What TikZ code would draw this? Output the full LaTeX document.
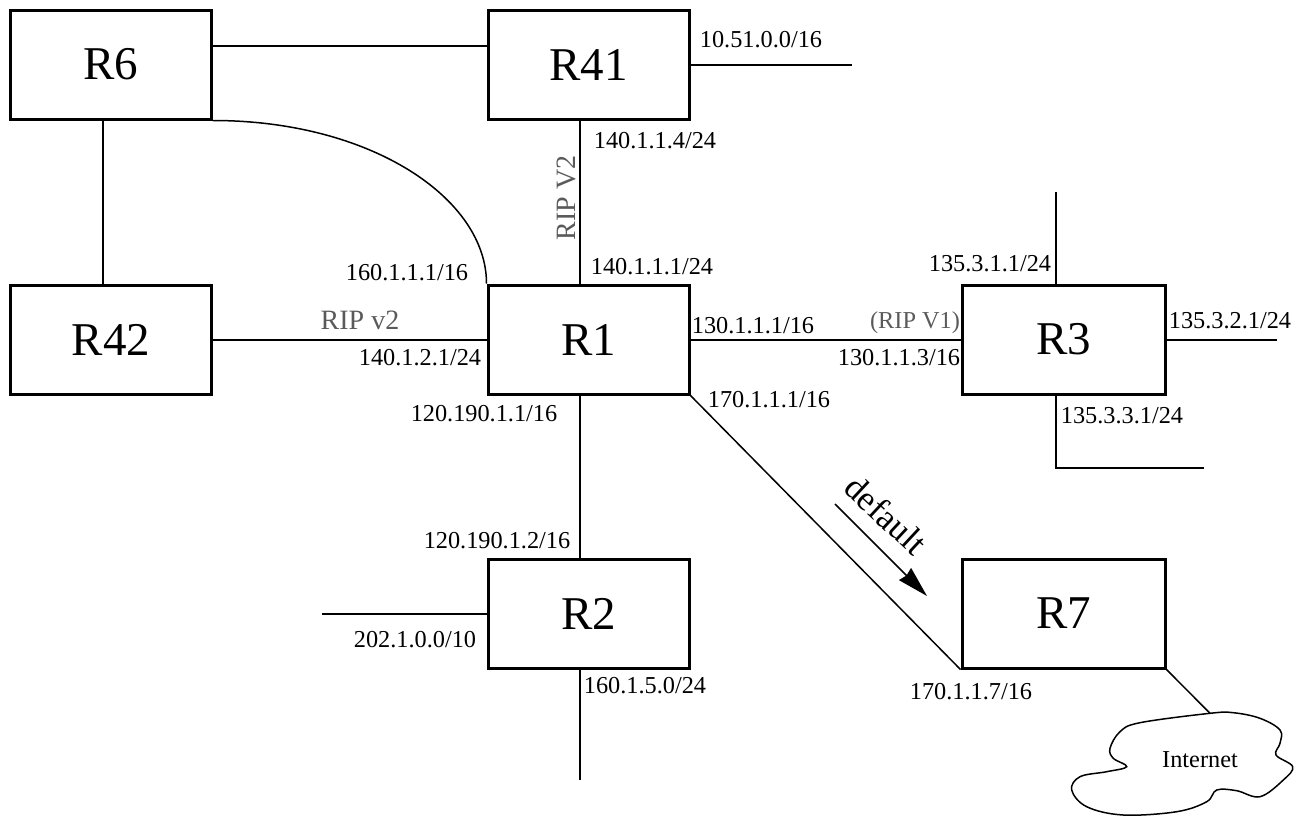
\documentclass[tikz,border=0pt]{standalone}
\usepackage{fontspec}
\setmainfont{Liberation Serif}
\usetikzlibrary{arrows.meta}
\definecolor{ripgray}{HTML}{5A5A5A}
\tikzset{
  router/.style={draw,line width=3pt,minimum width=201pt,minimum height=109pt,inner sep=0pt,font=\fontsize{47}{52}\selectfont},
  wire/.style={line width=2pt},
  thinwire/.style={line width=1.5pt},
  addr/.style={inner sep=0pt,font=\fontsize{24.3}{26}\selectfont},
  rip/.style={addr,text=ripgray,font=\fontsize{28}{30}\selectfont},
}
\begin{document}
\begin{tikzpicture}[x=1pt,y=-1pt]
\useasboundingbox (0,0) rectangle (1296,817);
% routers
\node[router] (R6) at (111,64.5) {R6};
\node[router] (R41) at (588.5,64.5) {R41};
\node[router] (R42) at (111,339.5) {R42};
\node[router] (R1) at (588.5,339.5) {R1};
\node[router,minimum width=203pt] (R3) at (1063.5,339.5) {R3};
\node[router] (R2) at (588.5,613.5) {R2};
\node[router,minimum width=203pt] (R7) at (1063.5,613.5) {R7};
% free ends
\coordinate (e41) at (852,65);
\coordinate (e3n) at (1056,192);
\coordinate (e3e) at (1277,340);
\coordinate (e3s) at (1204,468);
\coordinate (e2w) at (322,614);
\coordinate (e2s) at (580,780);
\coordinate (cloudtop) at (1210,713.3);
\coordinate (arrowstart) at (835,504);
\coordinate (arrowend) at (927,596);
% connectors
\draw[wire] ([yshift=18.5pt]R6.east) -- ([yshift=18.5pt]R41.west);
\draw[wire] ([xshift=-8pt]R6.south) -- ([xshift=-8pt]R42.north);
\draw[wire] ([xshift=-8.5pt]R41.south) -- ([xshift=-8.5pt]R1.north);
\draw[wire] (R42.east) -- (R1.west);
\draw[wire] (R1.east) -- (R3.west);
\draw[wire] ([xshift=-8.5pt]R1.south) -- ([xshift=-8.5pt]R2.north);
\draw[thinwire] (R6.south east) .. controls +(158,0) and +(0,-85) .. (R1.north west);
\draw[thinwire] (R1.south east) -- (R7.south west);
\draw[wire] (R41.east |- e41) -- (e41);
\draw[wire] (R3.north -| e3n) -- (e3n);
\draw[wire] (R3.east |- e3e) -- (e3e);
\draw[wire] (R3.south -| e3n) -- (e3n |- e3s) -- (e3s);
\draw[wire] (R2.west |- e2w) -- (e2w);
\draw[wire] (R2.south -| e2s) -- (e2s);
\draw[thinwire] (R7.south east) -- (cloudtop);
\draw[thinwire,-{Triangle[length=31pt,width=17pt,inset=2pt]}] (arrowstart) -- (arrowend);
% cloud
\draw[thinwire] plot[smooth cycle,tension=0.6] coordinates {
 (1210,713.3) (1233.3,712.7) (1260,718.3) (1280,730) (1280,743.3) (1276,755)
 (1292.7,766.7) (1283.3,780) (1260,796.7) (1236.7,790.7) (1216.7,790) (1206.7,801.7)
 (1176.7,811.7) (1123.3,815) (1086.7,806.7) (1071.7,790) (1080,776.7) (1106.7,771.7)
 (1126.7,766.7) (1113.3,758.3) (1110,748.3) (1120,731.7) (1140,722.7)};
\node[addr] (internet) at (1200,760) {Internet};
% labels
\node[addr] (a1) at (761,40) {10.51.0.0/16};
\node[addr] (a2) at (655,141) {140.1.1.4/24};
\node[addr] (a3) at (652,267) {140.1.1.1/24};
\node[addr] (a4) at (407,273) {160.1.1.1/16};
\node[addr] (a5) at (990,264) {135.3.1.1/24};
\node[addr] (a6) at (420,358) {140.1.2.1/24};
\node[addr] (a7) at (753,326) {130.1.1.1/16};
\node[addr] (a8) at (899,358) {130.1.1.3/16};
\node[addr] (a9) at (1230,321) {135.3.2.1/24};
\node[addr] (a10) at (769,400) {170.1.1.1/16};
\node[addr] (a11) at (484,414) {120.190.1.1/16};
\node[addr] (a12) at (1122,416) {135.3.3.1/24};
\node[addr] (a13) at (497,541) {120.190.1.2/16};
\node[addr] (a14) at (415,640) {202.1.0.0/10};
\node[addr] (a15) at (645,686) {160.1.5.0/24};
\node[addr] (a16) at (971,692) {170.1.1.7/16};
\node[rip] (r1) at (360,320) {RIP v2};
\node[rip,rotate=90] (r2) at (566,198) {RIP V2};
\node[rip,font=\fontsize{24.3}{26}\selectfont] (r3) at (915,323) {(RIP V1)};
\node[inner sep=0pt,rotate=-43,font=\fontsize{35}{38}\selectfont] (def) at (886,515) {default};
\end{tikzpicture}
\end{document}
